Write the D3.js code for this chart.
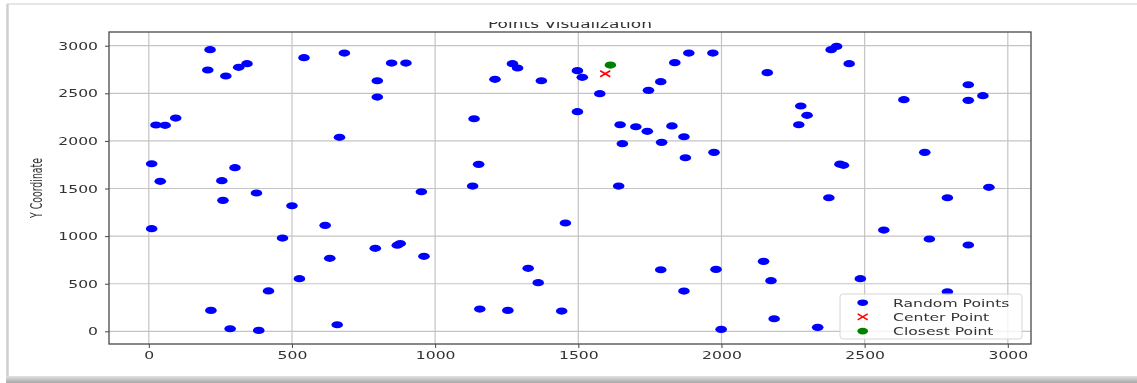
<!DOCTYPE html>
<html>
<head>
<meta charset="utf-8">
<script src="https://cdn.jsdelivr.net/npm/d3@7"></script>
<style>
  body { margin: 0; background: #fff; }
  svg { display: block; }
  text { font-family: "DejaVu Sans", sans-serif; fill: #333; }
</style>
</head>
<body>
<svg id="chart" width="1137" height="383"></svg>
<script>
// random points
const randX = [214, 206, 269, 314, 343, 542, 683, 798, 798, 25, 57, 94, 666, 10, 40, 301, 255, 259, 376, 500,
  10, 616, 467, 632, 791, 526, 418, 217, 284, 384, 658, 848, 898, 1270, 1288, 1209, 1371, 1497, 1514, 1575,
  1497, 1136, 1152, 1131, 952, 868, 878, 961, 1455, 1325, 1360, 1156, 1254, 1442, 1646, 1701, 1741, 1827, 1654, 1791,
  1869, 1874, 1974, 1641, 1745, 1788, 1837, 1886, 1970, 1788, 1981, 1869, 1999, 2160, 2383, 2402, 2446, 2277, 2299, 2270,
  2637, 2862, 2862, 2913, 2710, 2414, 2426, 2375, 2789, 2934, 2567, 2726, 2862, 2147, 2173, 2485, 2789, 2184, 2336];
const randY = [2958, 2745, 2682, 2773, 2811, 2874, 2923, 2632, 2461, 2167, 2164, 2240, 2038, 1760, 1576, 1719, 1582, 1376, 1453, 1319,
  1078, 1113, 980, 767, 872, 553, 424, 220, 27, 10, 69, 2818, 2818, 2811, 2766, 2647, 2632, 2738, 2668, 2496,
  2307, 2233, 1754, 1526, 1466, 905, 922, 788, 1138, 662, 511, 234, 220, 213, 2170, 2149, 2101, 2157, 1971, 1985,
  2044, 1823, 1880, 1526, 2531, 2622, 2822, 2923, 2923, 647, 651, 423, 21, 2717, 2958, 2993, 2811, 2367, 2269, 2170,
  2433, 2590, 2426, 2475, 1880, 1756, 1744, 1403, 1403, 1513, 1064, 970, 907, 735, 532, 553, 416, 132, 42];
const centerPt = [1594, 2706];
const closestPt = [1612, 2797];

const xTicks = [0, 500, 1000, 1500, 2000, 2500, 3000];
const yTicks = [0, 500, 1000, 1500, 2000, 2500, 3000];
const legendLabels = ['Random Points', 'Center Point', 'Closest Point'];

const sx = 1.42; // the picture is stretched sideways

const svg = d3.select('#chart');
const defs = svg.append('defs');

// screenshot frame
svg.append('rect').attr('x', 0).attr('y', 0).attr('width', 1137).attr('height', 383).attr('fill', '#fff');
svg.append('line').attr('x1', 7).attr('x2', 1137).attr('y1', 4).attr('y2', 4)
  .attr('stroke', '#e6e6e6').attr('stroke-width', 2);
svg.append('line').attr('x1', 7.5).attr('x2', 7.5).attr('y1', 4).attr('y2', 377)
  .attr('stroke', '#cfcfcf').attr('stroke-width', 2.5);
const grad = defs.append('linearGradient').attr('id', 'bot').attr('x1', 0).attr('x2', 0).attr('y1', 0).attr('y2', 1);
grad.append('stop').attr('offset', 0).attr('stop-color', '#e2e2e2');
grad.append('stop').attr('offset', 1).attr('stop-color', '#a8a8a8');
svg.append('rect').attr('x', 6).attr('y', 376).attr('width', 1131).attr('height', 7).attr('fill', 'url(#bot)');

defs.append('filter').attr('id', 'soft')
  .append('feGaussianBlur').attr('stdDeviation', 0.45);
defs.append('clipPath').attr('id', 'titleClip')
  .append('rect').attr('x', 0).attr('y', 22).attr('width', 1137).attr('height', 40);

const m = { left: 109, right: 1031, top: 32, bottom: 344 };
const x = d3.scaleLinear().domain([-139, 3081]).range([m.left, m.right]);
const y = d3.scaleLinear().domain([-133, 3144]).range([m.bottom, m.top]);

const g = svg.append('g').attr('filter', 'url(#soft)');

// grid
g.append('g').selectAll('line').data(xTicks).enter().append('line')
  .attr('x1', d => x(d)).attr('x2', d => x(d)).attr('y1', m.top).attr('y2', m.bottom)
  .attr('stroke', '#c4c4c4').attr('stroke-width', 1.2);
g.append('g').selectAll('line').data(yTicks).enter().append('line')
  .attr('x1', m.left).attr('x2', m.right).attr('y1', d => y(d)).attr('y2', d => y(d))
  .attr('stroke', '#c4c4c4').attr('stroke-width', 1.2);

// axes
const xAxis = g.append('g')
  .attr('transform', 'translate(0,' + m.bottom + ')')
  .call(d3.axisBottom(x).tickValues(xTicks).tickFormat(d3.format('d'))
    .tickSize(4).tickPadding(3).tickSizeOuter(0));
const yAxis = g.append('g')
  .attr('transform', 'translate(' + m.left + ',0)')
  .call(d3.axisLeft(y).tickValues(yTicks).tickFormat(d3.format('d'))
    .tickSize(4).tickPadding(7).tickSizeOuter(0));

[xAxis, yAxis].forEach(a => {
  a.select('.domain').remove();
  a.selectAll('.tick line').attr('stroke', '#444');
  a.selectAll('.tick text')
    .attr('font-size', 11).attr('fill', '#333')
    .style('font-family', '"DejaVu Sans", sans-serif')
    .attr('x', function () { return (+d3.select(this).attr('x') || 0) / sx; })
    .attr('transform', 'scale(' + sx + ',1)');
});

// frame of the axes
g.append('rect').attr('x', m.left).attr('y', m.top).attr('width', m.right - m.left).attr('height', m.bottom - m.top)
  .attr('fill', 'none').attr('stroke', '#4a4a4a').attr('stroke-width', 1.3);

// points
g.append('g').selectAll('ellipse').data(d3.range(randX.length)).enter().append('ellipse')
  .attr('cx', i => x(randX[i])).attr('cy', i => y(randY[i]))
  .attr('rx', 5.8).attr('ry', 3.6).attr('fill', '#0000ff');

g.append('ellipse').attr('cx', x(closestPt[0])).attr('cy', y(closestPt[1]))
  .attr('rx', 5.8).attr('ry', 3.6).attr('fill', '#008000');

function cross(sel, cx, cy) {
  sel.append('path')
    .attr('d', `M${cx - 5},${cy - 3}L${cx + 5},${cy + 3}M${cx - 5},${cy + 3}L${cx + 5},${cy - 3}`)
    .attr('stroke', '#ff0000').attr('stroke-width', 1.6).attr('fill', 'none');
}
cross(g, x(centerPt[0]), y(centerPt[1]));

// legend
const lg = g.append('g');
lg.append('rect').attr('x', 840).attr('y', 294).attr('width', 182).attr('height', 45).attr('rx', 3)
  .attr('fill', 'rgba(255,255,255,0.8)').attr('stroke', '#d6d6d6');
legendLabels.forEach((lab, i) => {
  const cy = 302.7 + i * 14.2;
  if (i === 1) cross(lg, 862.7, cy);
  else lg.append('ellipse').attr('cx', 862.7).attr('cy', cy).attr('rx', 5.4).attr('ry', 3.3)
    .attr('fill', i === 0 ? '#0000ff' : '#008000');
  lg.append('text').attr('x', 893 / sx).attr('y', cy + 4).attr('font-size', 11)
    .attr('transform', 'scale(' + sx + ',1)').text(lab);
});

// y label
svg.append('text')
  .attr('transform', 'translate(42,188) rotate(-90) scale(0.85,1.4)')
  .attr('text-anchor', 'middle').attr('font-size', 11).attr('fill', '#333')
  .attr('filter', 'url(#soft)')
  .text('Y Coordinate');

// title, cut at the top like in the picture
svg.append('g').attr('clip-path', 'url(#titleClip)')
  .append('text')
  .attr('x', 570 / sx).attr('y', 28)
  .attr('transform', 'scale(' + sx + ',1)')
  .attr('text-anchor', 'middle').attr('font-size', 12).attr('fill', '#333')
  .attr('filter', 'url(#soft)')
  .text('Points Visualization');
</script>
</body>
</html>
